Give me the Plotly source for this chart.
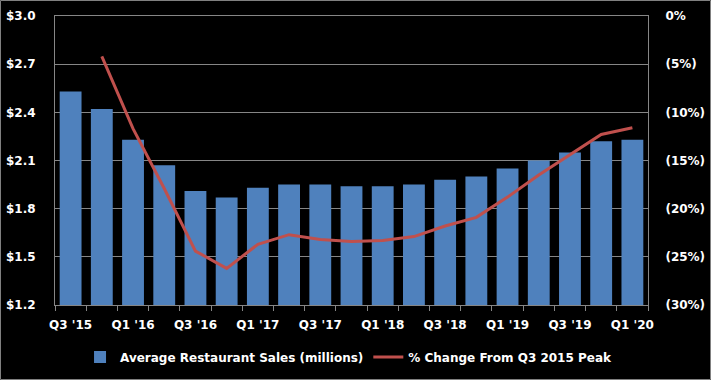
import plotly.graph_objects as go

quarters = ["Q3 '15", "Q4 '15", "Q1 '16", "Q2 '16", "Q3 '16", "Q4 '16", "Q1 '17", "Q2 '17",
            "Q3 '17", "Q4 '17", "Q1 '18", "Q2 '18", "Q3 '18", "Q4 '18", "Q1 '19", "Q2 '19",
            "Q3 '19", "Q4 '19", "Q1 '20"]
avg_sales = [2.53, 2.42, 2.23, 2.07, 1.91, 1.87, 1.93, 1.95, 1.95, 1.94, 1.94, 1.95,
             1.98, 2.00, 2.05, 2.10, 2.15, 2.22, 2.23]
pct_change = [None, -4.2, -11.7, -17.9, -24.4, -26.2, -23.7, -22.7, -23.2, -23.4, -23.3, -22.9,
              -21.8, -20.9, -18.8, -16.5, -14.4, -12.3, -11.6]
left_ticks = [1.2, 1.5, 1.8, 2.1, 2.4, 2.7, 3.0]
right_ticks = [0, -5, -10, -15, -20, -25, -30]
right_labels = ["0%", "(5%)", "(10%)", "(15%)", "(20%)", "(25%)", "(30%)"]

xpos = list(range(len(quarters)))
label_pos = xpos[::2]
label_text = quarters[::2]
boundaries = [i - 0.5 for i in range(len(quarters) + 1)]

GRID = "#868686"
FONT = dict(family="DejaVu Sans", size=12, color="white", weight="bold")

fig = go.Figure()
fig.add_trace(go.Bar(x=xpos, y=avg_sales, name="Average Restaurant Sales (millions)",
                     marker=dict(color="#4F81BD", line=dict(width=0)), yaxis="y"))
fig.add_trace(go.Scatter(x=xpos, y=pct_change, name="% Change From Q3 2015 Peak",
                         mode="lines", line=dict(color="#C0504D", width=3), yaxis="y2"))

fig.update_layout(
    width=711, height=380,
    margin=dict(l=55, r=63, t=16, b=75, autoexpand=False),
    paper_bgcolor="black", plot_bgcolor="black",
    font=FONT,
    bargap=0.3,
    showlegend=True,
    legend=dict(orientation="h", x=0.495, xanchor="center", y=-0.18, yanchor="middle",
                font=dict(family="DejaVu Sans", size=12, color="white", weight="bold"),
                bgcolor="rgba(0,0,0,0)", tracegroupgap=0),
    xaxis=dict(range=[-0.5, len(quarters) - 0.5], tickmode="array", tickvals=label_pos,
               ticktext=label_text, ticks="", showgrid=False, showline=True, linecolor=GRID,
               linewidth=1, mirror=True, tickfont=FONT, zeroline=False, automargin=False,
               ticklabelstandoff=9,
               minor=dict(tickmode="array", tickvals=boundaries, ticks="outside", ticklen=5,
                          tickcolor=GRID, tickwidth=1, showgrid=False)),
    yaxis=dict(range=[1.2, 3.0], tickmode="array", tickvals=left_ticks, tickformat="$.1f",
               showgrid=True, gridcolor=GRID, gridwidth=1, showline=True, linecolor=GRID,
               ticks="", tickfont=FONT, zeroline=False, ticklabelstandoff=16, automargin=False),
    yaxis2=dict(range=[-30, 0], overlaying="y", side="right", tickmode="array",
                tickvals=right_ticks, ticktext=right_labels, showgrid=False, showline=True,
                linecolor=GRID, ticks="", tickfont=FONT, zeroline=False, ticklabelstandoff=14,
                automargin=False),
    shapes=[dict(type="rect", xref="paper", yref="paper",
                 x0=-54.5 / 593, x1=(710.5 - 55) / 593, y0=-74.5 / 289,
                 y1=(288.5 + 16) / 289,
                 line=dict(color="#808080", width=1), fillcolor="rgba(0,0,0,0)", layer="above")],
)

fig.write_html("out.html", config={"displayModeBar": False},
               post_script="document.body.style.margin='0px';document.body.style.overflow='hidden';")
